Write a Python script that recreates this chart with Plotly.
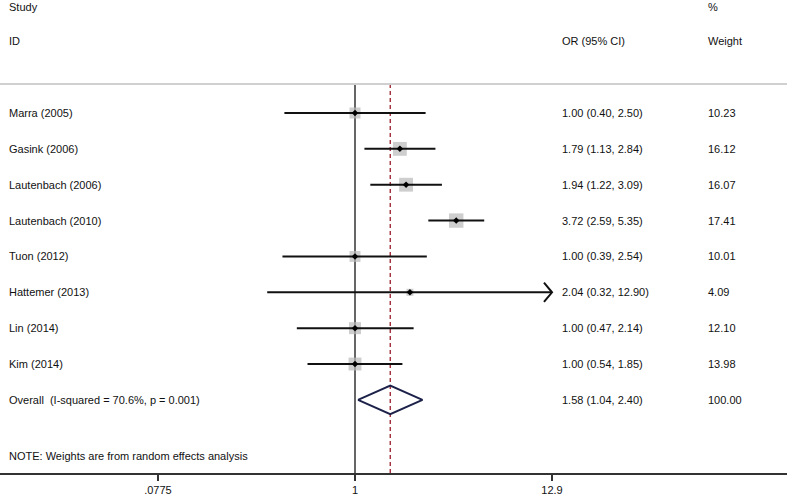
import plotly.graph_objects as go

studies = ["Marra (2005)", "Gasink (2006)", "Lautenbach (2006)", "Lautenbach (2010)",
           "Tuon (2012)", "Hattemer (2013)", "Lin (2014)", "Kim (2014)"]
or_est = [1.00, 1.79, 1.94, 3.72, 1.00, 2.04, 1.00, 1.00]
ci_low = [0.40, 1.13, 1.22, 2.59, 0.39, 0.32, 0.47, 0.54]
ci_high = [2.50, 2.84, 3.09, 5.35, 2.54, 12.90, 2.14, 1.85]
weights = [10.23, 16.12, 16.07, 17.41, 10.01, 4.09, 12.10, 13.98]
or_text = ["1.00 (0.40, 2.50)", "1.79 (1.13, 2.84)", "1.94 (1.22, 3.09)", "3.72 (2.59, 5.35)",
           "1.00 (0.39, 2.54)", "2.04 (0.32, 12.90)", "1.00 (0.47, 2.14)", "1.00 (0.54, 1.85)"]
weight_text = ["10.23", "16.12", "16.07", "17.41", "10.01", "4.09", "12.10", "13.98"]

overall_label = "Overall  (I-squared = 70.6%, p = 0.001)"
overall_est, overall_low, overall_high = 1.58, 1.04, 2.40
overall_text = "1.58 (1.04, 2.40)"
overall_weight = "100.00"
note = "NOTE: Weights are from random effects analysis"

tick_vals = [0.0775, 1, 12.9]
tick_text = [".0775", "1", "12.9"]
x_min, x_max = 0.0775, 12.9

FONT = "Liberation Sans, Arial, sans-serif"
rows = list(range(1, len(studies) + 1))
overall_row = len(studies) + 1
note_row = overall_row + 1.56

fig = go.Figure()

# reference line at OR = 1
fig.add_trace(go.Scatter(x=[1, 1], y=[0.19, 11.04], mode="lines",
                         line=dict(color="#333333", width=1.5), hoverinfo="skip"))
# overall dashed line
fig.add_trace(go.Scatter(x=[overall_est, overall_est], y=[0.19, 11.04], mode="lines",
                         line=dict(color="#9b1c2c", width=1.3, dash="4px,3px"), hoverinfo="skip"))

# weight boxes
fig.add_trace(go.Scatter(x=or_est, y=rows, mode="markers",
                         marker=dict(symbol="square", color="#b9b9b9",
                                     size=[3.45 * w ** 0.5 for w in weights],
                                     line=dict(width=0)), hoverinfo="skip"))

# CI lines
arrow_rows = []
for r, lo, hi in zip(rows, ci_low, ci_high):
    hi_c = min(hi, x_max)
    fig.add_trace(go.Scatter(x=[lo, hi_c], y=[r, r], mode="lines",
                             line=dict(color="#111111", width=2), hoverinfo="skip"))
    if hi > x_max * 0.999:
        arrow_rows.append(r)

# arrows for truncated CIs
for r in arrow_rows:
    fig.add_trace(go.Scatter(x=[x_max / 1.11, x_max, x_max / 1.11], y=[r - 0.27, r, r + 0.27],
                             mode="lines", line=dict(color="#111111", width=2), hoverinfo="skip"))

# point estimates
fig.add_trace(go.Scatter(x=or_est, y=rows, mode="markers",
                         marker=dict(symbol="diamond", color="#000000", size=5), hoverinfo="skip"))

# overall diamond
fig.add_trace(go.Scatter(x=[overall_low, overall_est, overall_high, overall_est, overall_low],
                         y=[overall_row, overall_row - 0.4, overall_row, overall_row + 0.4, overall_row],
                         mode="lines", line=dict(color="#1c2149", width=2), hoverinfo="skip"))

annotations = []
def txt(x_px, y, s):
    annotations.append(dict(x=x_px / 787, xref="paper", y=y, yref="y", text=s,
                            showarrow=False, xanchor="left", yanchor="middle",
                            font=dict(family=FONT, size=11, color="#111111")))

txt(7, -1.96, "Study")
txt(7, -1.0, "ID")
txt(560, -1.0, "OR (95% CI)")
txt(706, -1.96, "%")
txt(706, -1.0, "Weight")
for r, s, o, w in zip(rows, studies, or_text, weight_text):
    txt(7, r, s)
    txt(560, r, o)
    txt(706, r, w)
txt(7, overall_row, overall_label)
txt(560, overall_row, overall_text)
txt(706, overall_row, overall_weight)
txt(7, note_row, note)

fig.update_layout(
    width=787, height=496,
    margin=dict(l=0, r=0, t=0, b=23),
    plot_bgcolor="white", paper_bgcolor="white",
    showlegend=False,
    annotations=annotations,
    shapes=[dict(type="line", xref="paper", yref="y", x0=0, x1=1, y0=0.19, y1=0.19,
                 line=dict(color="#d0d0d0", width=2))],
    xaxis=dict(type="log", range=[-2.001, 2.435], showgrid=False, zeroline=False,
               showline=True, linecolor="#333333", linewidth=1.5,
               ticks="outside", ticklen=6, tickwidth=1.5, tickcolor="#333333",
               tickvals=tick_vals, ticktext=tick_text,
               tickfont=dict(family=FONT, size=11, color="#111111"), fixedrange=True),
    yaxis=dict(range=[11.039, -2.151], showgrid=False, zeroline=False, showline=False,
               showticklabels=False, ticks="", fixedrange=True),
)

fig.write_html("out.html",
               config={"displayModeBar": False},
               post_script="document.body.style.margin='0';document.body.style.overflow='hidden';")
